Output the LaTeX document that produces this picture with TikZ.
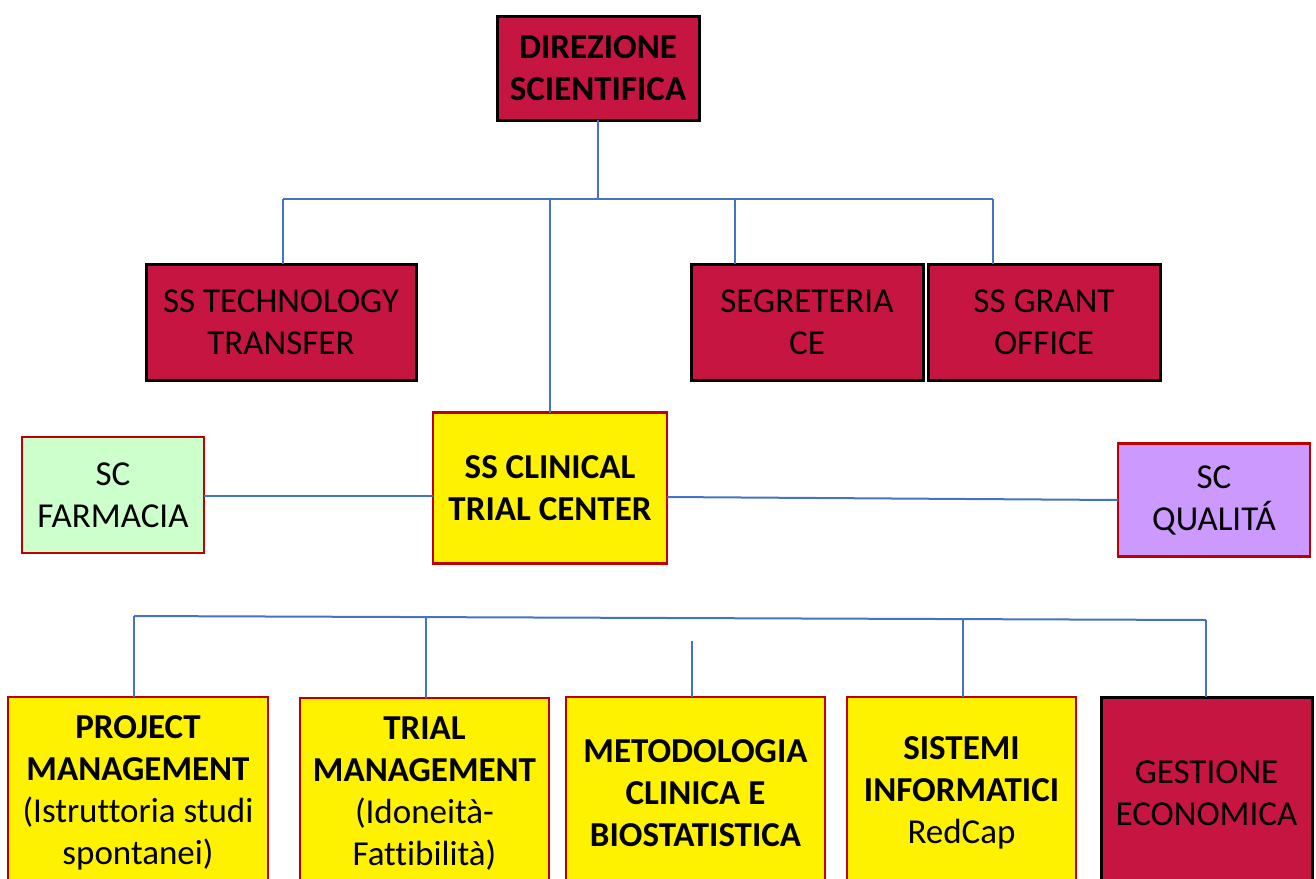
\documentclass[tikz,border=0pt]{standalone}
\usepackage{fontspec}
\setmainfont{Carlito}[Ligatures={NoCommon}]
\definecolor{crimson}{RGB}{199,21,65}
\definecolor{bordred}{RGB}{192,0,0}
\definecolor{linkblue}{RGB}{68,114,196}
\definecolor{paleg}{RGB}{204,255,204}
\definecolor{lilac}{RGB}{204,153,255}
\begin{document}
\begin{tikzpicture}[x=1pt,y=-1pt,
  base/.style={draw, inner sep=0pt, outer sep=0pt, align=center, text=black,
    font=\fontsize{35}{42}\selectfont},
  crim/.style={base, fill=crimson, draw=black, line width=3pt},
  ylw/.style={base, fill=yellow, draw=bordred, line width=2.5pt},
  grn/.style={base, fill=paleg, draw=bordred, line width=2.5pt},
  lil/.style={base, fill=lilac, draw=bordred, line width=2.5pt},
  conn/.style={draw=linkblue, line width=2pt}]
\useasboundingbox (0,0) rectangle (1316,878);

% top level
\node[crim, minimum width=202pt, minimum height=104pt] (dir) at (598,68) {\bfseries DIREZIONE\\\bfseries SCIENTIFICA};

% second row
\node[crim, minimum width=270pt, minimum height=116pt] (tech) at (281,322) {SS TECHNOLOGY\\TRANSFER};
\node[crim, minimum width=232pt, minimum height=116pt] (seg) at (807,322) {SEGRETERIA\\CE};
\node[crim, minimum width=232pt, minimum height=116pt] (grant) at (1044,322) {SS GRANT\\OFFICE};

% middle row
\node[grn, minimum width=182pt, minimum height=116pt] (farm) at (113,495) {SC\\FARMACIA};
\node[ylw, minimum width=234pt, minimum height=151pt] (ctc) at (550,488) {\bfseries SS CLINICAL\\\bfseries TRIAL CENTER};
\node[lil, minimum width=192pt, minimum height=113pt] (qual) at (1214,500) {SC\\QUALITÁ};

% bottom row
\node[ylw, minimum width=260pt, minimum height=192pt] (pm) at (138,793) {\bfseries PROJECT\\\bfseries MANAGEMENT\\(Istruttoria studi\\spontanei)};
\node[ylw, minimum width=249pt, minimum height=192pt] (tm) at (424.5,794) {\bfseries TRIAL\\\bfseries MANAGEMENT\\(Idoneità-\\Fattibilità)};
\node[ylw, minimum width=259pt, minimum height=192pt] (met) at (695.5,793) {\bfseries METODOLOGIA\\\bfseries CLINICA E\\\bfseries BIOSTATISTICA};
\node[ylw, minimum width=229pt, minimum height=192pt] (sis) at (961.5,793) {\bfseries SISTEMI\\\bfseries INFORMATICI\\RedCap};
\node[crim, minimum width=211pt, minimum height=192pt] (ges) at (1206.5,793) {GESTIONE\\ECONOMICA};

% top connectors
\coordinate (tL) at (283,199);
\coordinate (tR) at (993,199);
\coordinate (tC) at (550,199);
\coordinate (tS) at (735,199);
\draw[conn] (dir.south) -- (dir.south |- tL);
\draw[conn] (tL) -- (tR);
\draw[conn] (tL) -- (tL |- tech.north);
\draw[conn] (tC) -- (ctc.north);
\draw[conn] (tS) -- (tS |- seg.north);
\draw[conn] (tR) -- (tR |- grant.north);

% side connectors
\draw[conn] (farm.east) ++(0,1) -- ([yshift=-8pt]ctc.west);
\draw[conn] ([yshift=-9pt]ctc.east) -- (qual.west);

% bottom connectors
\coordinate (bL) at (134,616);
\coordinate (bR) at (1206,620);
\coordinate (bT) at (426,618);
\coordinate (bM) at (692,641);
\coordinate (bS) at (963,618);
\draw[conn] (bL) -- (bR);
\draw[conn] (bL) -- (bL |- pm.north);
\draw[conn] (bT) -- (bT |- tm.north);
\draw[conn] (bM) -- (bM |- met.north);
\draw[conn] (bS) -- (bS |- sis.north);
\draw[conn] (bR) -- (bR |- ges.north);
\end{tikzpicture}
\end{document}
